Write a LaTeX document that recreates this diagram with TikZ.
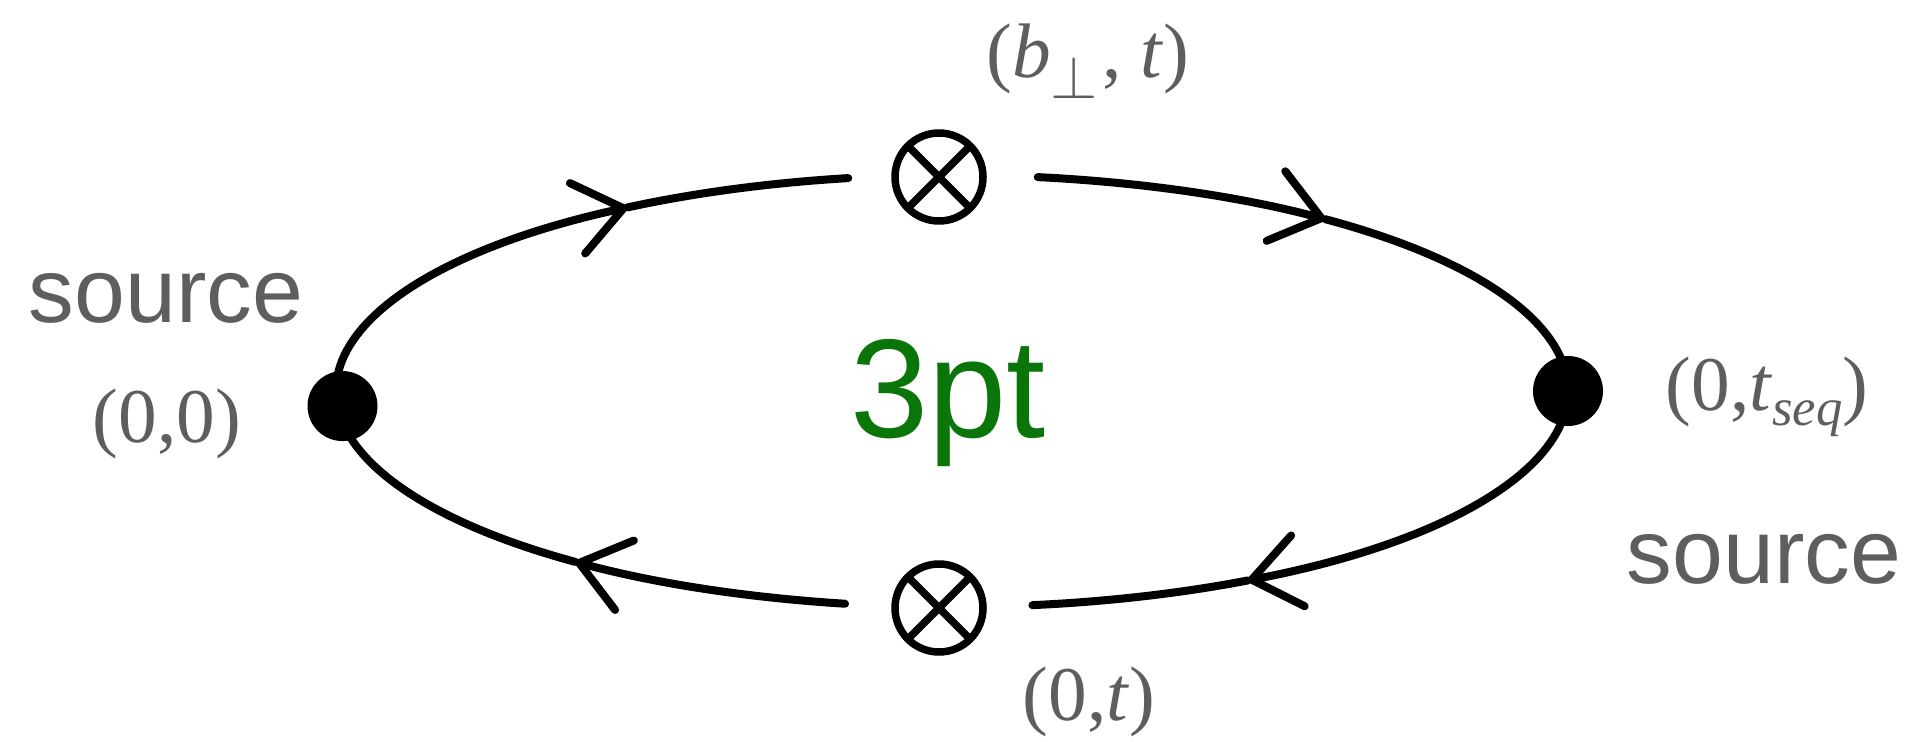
\documentclass[tikz,border=0pt]{standalone}
\usepackage{fontspec}
\setmainfont{Liberation Serif}
\setsansfont{Liberation Sans}
\usetikzlibrary{arrows.meta,calc}
\definecolor{txtgray}{HTML}{5E5E5E}
\definecolor{ptgreen}{HTML}{0A760A}
\begin{document}
\begin{tikzpicture}[
  wire/.style={line width=0.08cm, line cap=round, black},
  tipped/.style={wire, -{Straight Barb[length=0.47cm, width=0.72cm, round]}},
  ell/.style={x radius=6.16, y radius=2.16},
  otimes/.style={circle, draw, line width=0.075cm, minimum size=0.88cm, inner sep=0pt, outer sep=0pt},
  dot/.style={circle, fill=black, minimum size=0.7cm, inner sep=0pt},
  srclbl/.style={font=\sffamily\fontsize{26}{30}\selectfont, text=txtgray, anchor=base, inner sep=0pt},
  coordlbl/.style={font=\fontsize{22}{26}\selectfont, text=txtgray, anchor=base, inner sep=0pt}
]
\useasboundingbox (0,0) rectangle (19.16,7.41);
\coordinate (C) at (9.52,3.50);
% ellipse points
\coordinate (L) at ($(C)+(184:6.16 and 2.16)$);
\coordinate (R) at ($(C)+(0:6.16 and 2.16)$);
\coordinate (a1) at ($(C)+(121.8:6.16 and 2.16)$);
\coordinate (g1) at ($(C)+(99.7:6.16 and 2.16)$);
\coordinate (g2) at ($(C)+(82:6.16 and 2.16)$);
\coordinate (a2) at ($(C)+(52.7:6.16 and 2.16)$);
\coordinate (a3) at ($(C)+(298.7:6.16 and 2.16)$);
\coordinate (g3) at ($(C)+(277.5:6.16 and 2.16)$);
\coordinate (g4) at ($(C)+(260:6.16 and 2.16)$);
\coordinate (a4) at ($(C)+(232.3:6.16 and 2.16)$);

% top-left
\draw[tipped] (L) arc[start angle=184, end angle=121.8, ell];
\draw[wire] (a1) arc[start angle=121.8, end angle=99.7, ell];
% top-right
\draw[tipped] (g2) arc[start angle=82, end angle=52.7, ell];
\draw[wire] (a2) arc[start angle=52.7, end angle=0, ell];
% bottom-right
\draw[tipped] (R) arc[start angle=360, end angle=298.7, ell];
\draw[wire] (a3) arc[start angle=298.7, end angle=277.5, ell];
% bottom-left
\draw[tipped] (g4) arc[start angle=260, end angle=232.3, ell];
\draw[wire] (a4) arc[start angle=232.3, end angle=184, ell];

% vertices
\node[dot] (dl) at ($(L)+(0.05,0)$) {};
\node[dot] (dr) at (R) {};
\node[otimes] (ot) at (9.39,5.64) {};
\draw[line width=0.075cm] (ot.45) -- (ot.225) (ot.135) -- (ot.315);
\node[otimes] (ob) at (9.39,1.33) {};
\draw[line width=0.075cm] (ob.45) -- (ob.225) (ob.135) -- (ob.315);

% labels
\node[srclbl] (s1) at (1.66,4.19) {source};
\node[coordlbl] (c00) at (1.67,2.99) {(0,0)};
\node[coordlbl] (cbt) at (10.88,6.64) {(\textit{b}\raisebox{-0.6ex}{\fontsize{18}{20}\selectfont$\perp$}\kern0.05em, \textit{t})};
\node[coordlbl] (c0t) at (10.89,0.21) {(0,\textit{t})};
\node[coordlbl] (cts) at (17.67,3.31) {(0,\textit{t}\raisebox{-0.45ex}{\fontsize{15}{17}\selectfont\textit{seq}})};
\node[srclbl] (s2) at (17.64,1.58) {source};
\node[font=\sffamily\fontsize{40}{46}\selectfont, text=ptgreen, anchor=base, inner sep=0pt] (pt) at (9.48,3.04) {3pt};
\end{tikzpicture}
\end{document}
